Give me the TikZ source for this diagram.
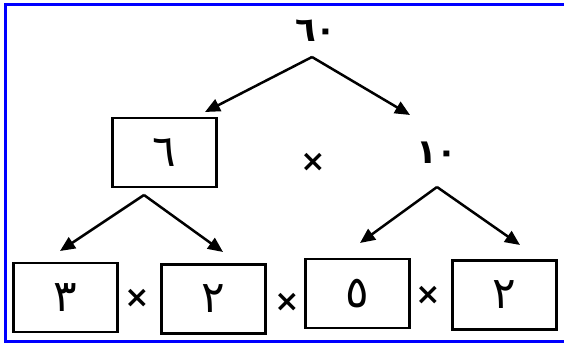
\documentclass[tikz,border=0pt]{standalone}
\usepackage{fontspec}
\newfontfamily\arabicfont[Script=Arabic]{DejaVu Sans}
\usetikzlibrary{arrows.meta}
\begin{document}
\begin{tikzpicture}[x=1pt, y=-1pt,
    box/.style={draw, line width=2.8pt, minimum width=104pt, minimum height=69pt, inner sep=0pt, font=\arabicfont\fontsize{44}{46}\selectfont},
    num/.style={inner sep=0pt, font=\arabicfont\bfseries\fontsize{34}{36}\selectfont},
    fois/.style={inner sep=0pt, font=\arabicfont\bfseries\fontsize{30}{32}\selectfont},
    fleche/.style={-{Triangle[length=15pt, width=13pt]}, line width=2.5pt}]
    \useasboundingbox (0,0) rectangle (564,347);
    % Cadre
    \draw[blue, line width=3pt] (570,5) -- (5,5) -- (5,341) -- (570,341);
    % Niveau 1
    \node[num] (n60) at (316,31) {٦٠};
    \coordinate (a60) at (312,57);
    % Niveau 2
    \node[box] (b6) at (164.5,152.5) {٦};
    \node[fois] (f0) at (313,162) {×};
    \node[num] (n10) at (437,153) {١٠};
    \coordinate (t6) at (205,112);
    \coordinate (t10) at (410,115);
    \draw[fleche] (a60) -- (t6);
    \draw[fleche] (a60) -- (t10);
    % Niveau 3
    \node[box] (b3) at (65.5,297.5) {٣};
    \node[fois] (f1) at (137,298) {×};
    \node[box] (b2a) at (213.5,299) {٢};
    \node[fois] (f2) at (287,302) {×};
    \node[box] (b5) at (357.5,293.5) {٥};
    \node[fois] (f3) at (428,295) {×};
    \node[box] (b2b) at (504.5,295) {٢};
    \coordinate (a6) at (144,195);
    \coordinate (a10) at (437,187);
    \coordinate (t3) at (60,251);
    \coordinate (t2a) at (223,252);
    \coordinate (t5) at (360,243);
    \coordinate (t2b) at (520,245);
    \draw[fleche] (a6) -- (t3);
    \draw[fleche] (a6) -- (t2a);
    \draw[fleche] (a10) -- (t5);
    \draw[fleche] (a10) -- (t2b);
\end{tikzpicture}
\end{document}
